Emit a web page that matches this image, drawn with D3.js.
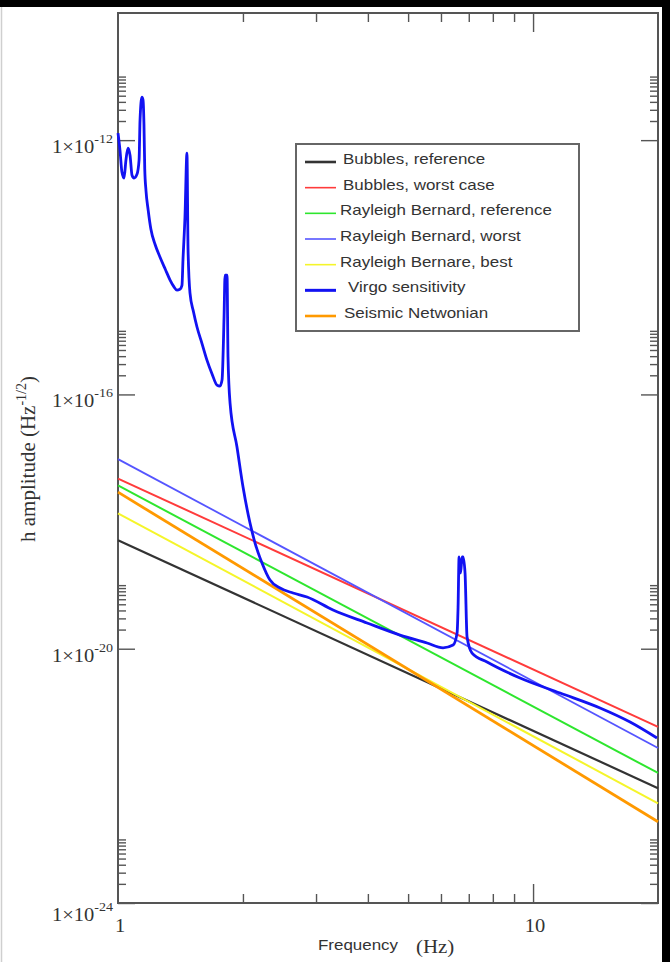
<!DOCTYPE html>
<html>
<head>
<meta charset="utf-8">
<script src="https://cdn.jsdelivr.net/npm/d3@7"></script>
<style>
  body { margin: 0; background: #fff; }
  svg { display: block; }
</style>
</head>
<body>
<div id="chart"></div>
<script>
// Axes
const freqDomain = [1, 20];
const ampDomain = [1e-24, 1e-10];
const freqMinorTicks = [2, 3, 4, 5, 6, 7, 8, 9];
const freqMajorTicks = [10];
const freqLabels = [1, 10];
const ampLabelExps = [-24, -20, -16, -12];

// Legend (same order as in the box)
const seriesNames = [
  "Bubbles, reference",
  "Bubbles, worst case",
  "Rayleigh Bernard, reference",
  "Rayleigh Bernard, worst",
  "Rayleigh Bernare, best",
  "Virgo sensitivity",
  "Seismic Netwonian"
];

// Straight power laws, read at 1 Hz and 20 Hz
const bubblesRef = [[1, 5.1e-19], [20, 6.4e-23]];
const bubblesWorst = [[1, 4.75e-18], [20, 5.9e-22]];
const rbReference = [[1, 3.7e-18], [20, 1.11e-22]];
const rbWorst = [[1, 9.6e-18], [20, 2.74e-22]];
const rbBest = [[1, 1.35e-18], [20, 3.7e-23]];
const seismicNewtonian = [[1, 2.9e-18], [20, 1.9e-23]];

// Virgo sensitivity curve [Hz, h]
const virgo = [
  [1.000, 1.29e-12], [1.011, 6.97e-13], [1.022, 3.14e-13], [1.034, 2.53e-13],
  [1.045, 4.85e-13], [1.057, 7.5e-13], [1.069, 5.8e-13], [1.081, 2.8e-13],
  [1.093, 2.53e-13], [1.111, 2.9e-13], [1.124, 4.85e-13], [1.130, 2.07e-12],
  [1.142, 4.75e-12], [1.149, 4.27e-12], [1.155, 1.73e-12], [1.160, 3.5e-13],
  [1.168, 1.6e-13], [1.182, 8.0e-14], [1.200, 4.0e-14], [1.228, 2.3e-14],
  [1.262, 1.45e-14], [1.300, 9.3e-15], [1.335, 6.3e-15], [1.362, 5.0e-15],
  [1.387, 4.38e-15], [1.410, 4.5e-15], [1.426, 5.2e-15], [1.434, 1.30e-14],
  [1.450, 6.17e-14], [1.466, 6.25e-13], [1.475, 1.87e-14], [1.491, 3.93e-15],
  [1.520, 2.0e-15], [1.550, 1.15e-15], [1.595, 6.2e-16], [1.638, 3.47e-16],
  [1.685, 2.1e-16], [1.732, 1.40e-16], [1.760, 1.35e-16], [1.781, 1.68e-16],
  [1.801, 1.65e-15], [1.811, 7.53e-15], [1.831, 7.53e-15], [1.841, 3.87e-16],
  [1.862, 7.31e-17], [1.935, 1.49e-17], [2.001, 3.49e-18], [2.080, 9.48e-19],
  [2.139, 4.59e-19], [2.223, 2.23e-19], [2.324, 1.20e-19], [2.457, 9.0e-20],
  [2.641, 7.52e-20], [2.854, 6.5e-20], [3.297, 4.06e-20], [3.981, 2.54e-20],
  [4.781, 1.64e-20], [5.554, 1.23e-20], [6.069, 1.03e-20], [6.416, 1.14e-20],
  [6.561, 1.77e-20], [6.597, 4.53e-20], [6.634, 2.77e-19], [6.690, 1.55e-19],
  [6.745, 2.77e-19], [6.782, 2.77e-19], [6.857, 1.55e-19], [6.934, 1.53e-20],
  [7.129, 8.55e-21], [7.748, 6.18e-21], [9.305, 3.46e-21], [11.62, 2.01e-21],
  [14.50, 1.17e-21], [17.13, 7.03e-22], [19.89, 3.94e-22]
];

const width = 670, height = 962;
const margin = { top: 13, right: 12, bottom: 59, left: 118 };

const series = [
  { name: seriesNames[0], data: bubblesRef, color: "#333333", w: 2.2, lw: 2.6 },
  { name: seriesNames[1], data: bubblesWorst, color: "#ff3b3b", w: 2, lw: 1.6 },
  { name: seriesNames[2], data: rbReference, color: "#2ee62e", w: 2, lw: 1.6 },
  { name: seriesNames[3], data: rbWorst, color: "#5555ff", w: 1.8, lw: 1.6 },
  { name: seriesNames[4], data: rbBest, color: "#f5f52a", w: 2, lw: 1.6 },
  { name: seriesNames[6], data: seismicNewtonian, color: "#ff9900", w: 2.8, lw: 2.6 },
  { name: seriesNames[5], data: virgo, color: "#1212f2", w: 2.8, lw: 3 }
];

const svg = d3.select("#chart").append("svg")
  .attr("width", width)
  .attr("height", height);

// black scan borders of the original picture
svg.append("rect").attr("x", 0).attr("y", 0).attr("width", width).attr("height", 7).attr("fill", "#000");
svg.append("rect").attr("x", 662).attr("y", 0).attr("width", 8).attr("height", height).attr("fill", "#000");
svg.append("line").attr("x1", 1.5).attr("x2", 1.5).attr("y1", 7).attr("y2", height)
  .attr("stroke", "#cfcfcf").attr("stroke-width", 1.5);

const x = d3.scaleLog().domain(freqDomain).range([margin.left, width - margin.right]);
const y = d3.scaleLog().domain(ampDomain).range([height - margin.bottom, margin.top]);

const axisColor = "#555";

function styleAxis(g) {
  g.select(".domain").remove();
  g.selectAll("line").attr("stroke", axisColor).attr("stroke-width", 1.4);
}

// x ticks, inward, bottom and top
svg.append("g").attr("transform", `translate(0,${y.range()[0]})`)
  .call(d3.axisBottom(x).tickValues(freqMinorTicks).tickSize(-9).tickFormat(""))
  .call(styleAxis);
svg.append("g").attr("transform", `translate(0,${y.range()[0]})`)
  .call(d3.axisBottom(x).tickValues(freqMajorTicks).tickSize(-19).tickFormat(""))
  .call(styleAxis);
svg.append("g").attr("transform", `translate(0,${y.range()[1]})`)
  .call(d3.axisTop(x).tickValues(freqMinorTicks).tickSize(-9).tickFormat(""))
  .call(styleAxis);
svg.append("g").attr("transform", `translate(0,${y.range()[1]})`)
  .call(d3.axisTop(x).tickValues(freqMajorTicks).tickSize(-19).tickFormat(""))
  .call(styleAxis);

// y ticks: minor ticks only in the decade above each labelled one
const ampMinor = [];
ampLabelExps.forEach(e => {
  for (let k = 2; k <= 10; k++) ampMinor.push(k * Math.pow(10, e));
});
const ampMajor = ampLabelExps.map(e => Math.pow(10, e));

[["left", x.range()[0]], ["right", x.range()[1]]].forEach(([side, xPos]) => {
  const ax = side === "left" ? d3.axisLeft : d3.axisRight;
  svg.append("g").attr("transform", `translate(${xPos},0)`)
    .call(ax(y).tickValues(ampMinor).tickSize(-8).tickFormat(""))
    .call(styleAxis);
  svg.append("g").attr("transform", `translate(${xPos},0)`)
    .call(ax(y).tickValues(ampMajor).tickSize(-17).tickFormat(""))
    .call(styleAxis);
});

// frame
svg.append("rect")
  .attr("x", x.range()[0]).attr("y", y.range()[1])
  .attr("width", x.range()[1] - x.range()[0])
  .attr("height", y.range()[0] - y.range()[1])
  .attr("fill", "none").attr("stroke", axisColor).attr("stroke-width", 2);

// curves
const line = d3.line()
  .x(d => x(d[0]))
  .y(d => y(d[1]))
  .curve(d3.curveMonotoneX);
const plot = svg.append("g");
plot.selectAll("path")
  .data(series)
  .join("path")
  .attr("d", d => line(d.data))
  .attr("fill", "none")
  .attr("stroke", d => d.color)
  .attr("stroke-width", d => d.w)
  .attr("stroke-linejoin", "round");

// y tick labels  1×10^e
const serif = "'Liberation Serif', 'Times New Roman', serif";
const sans = "'Liberation Sans', Arial, sans-serif";
const textColor = "#333";

ampLabelExps.forEach(e => {
  const yy = y(Math.pow(10, e));
  const by = e === -24 ? yy + 18 : yy + 13;
  const t = svg.append("text")
    .attr("transform", `translate(113,${by}) scale(1.08,1)`)
    .attr("text-anchor", "end")
    .attr("font-family", serif)
    .attr("font-size", 19)
    .attr("fill", textColor);
  t.append("tspan").text("1×10");
  t.append("tspan").attr("dy", -10).attr("font-size", 13).text(e);
});

// x tick labels
svg.selectAll(".xlab")
  .data(freqLabels)
  .join("text")
  .attr("class", "xlab")
  .attr("transform", d => `translate(${x(d) + 2},932) scale(1.08,1)`)
  .attr("text-anchor", "middle")
  .attr("font-family", serif)
  .attr("font-size", 19)
  .attr("fill", textColor)
  .text(d => d);

// axis titles
svg.append("text")
  .attr("transform", "translate(318,950) scale(1.13,1)")
  .attr("font-family", sans)
  .attr("font-size", 15)
  .attr("fill", textColor)
  .text("Frequency");
svg.append("text")
  .attr("transform", "translate(416,953) scale(1.1,1)")
  .attr("font-family", serif)
  .attr("font-size", 19)
  .attr("fill", textColor)
  .text("(Hz)");

const yt = svg.append("text")
  .attr("transform", "translate(35,459) rotate(-90)")
  .attr("text-anchor", "middle")
  .attr("font-family", serif)
  .attr("font-size", 21)
  .attr("fill", textColor);
yt.append("tspan").text("h amplitude (Hz");
yt.append("tspan").attr("dy", -9).attr("font-size", 14).text("-1/2");
yt.append("tspan").attr("dy", 9).text(")");

// legend
const legend = svg.append("g");
legend.append("rect")
  .attr("x", 296).attr("y", 144).attr("width", 283).attr("height", 187)
  .attr("fill", "#fff").attr("stroke", "#666").attr("stroke-width", 2);

const legendRows = seriesNames.map(name => series.find(s => s.name === name));
const rowY = d3.scalePoint().domain(seriesNames).range([162, 316]);
const textX = [343, 343, 340, 340, 340, 348, 344];

const rows = legend.selectAll(".row")
  .data(legendRows)
  .join("g")
  .attr("class", "row");
rows.append("line")
  .attr("x1", 305).attr("x2", 336)
  .attr("y1", d => rowY(d.name)).attr("y2", d => rowY(d.name))
  .attr("stroke", d => d.color)
  .attr("stroke-width", d => d.lw);
rows.append("text")
  .attr("transform", (d, i) => `translate(${textX[i]},${rowY(d.name) + 2}) scale(1.13,1)`)
  .attr("font-family", sans)
  .attr("font-size", 15)
  .attr("fill", textColor)
  .text(d => d.name);
</script>
</body>
</html>
